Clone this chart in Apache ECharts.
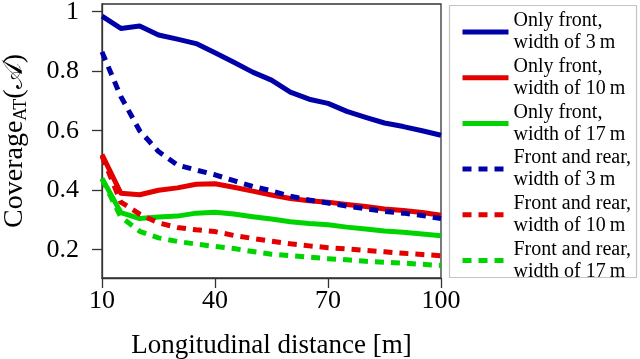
<!DOCTYPE html>
<html>
<head>
<meta charset="utf-8">
<script src="https://cdn.jsdelivr.net/npm/echarts@6/dist/echarts.min.js"></script>
<style>
  html, body { margin: 0; padding: 0; background: #fff; }
  #chart { width: 640px; height: 359px; }
</style>
</head>
<body>
<div id="chart"></div>
<script>
// longitudinal distance [m]
const distances = [10, 15, 20, 25, 30, 35, 40, 45, 50, 55, 60, 65, 70, 75, 80, 85, 90, 95, 100]

// only front
const front3 = [0.985, 0.944, 0.952, 0.922, 0.908, 0.893, 0.862, 0.830, 0.797, 0.770, 0.730, 0.706, 0.692, 0.665, 0.645, 0.626, 0.614, 0.600, 0.585]
const front10 = [0.520, 0.390, 0.385, 0.400, 0.408, 0.420, 0.422, 0.410, 0.397, 0.384, 0.372, 0.365, 0.360, 0.352, 0.345, 0.337, 0.332, 0.325, 0.316]
const front17 = [0.440, 0.325, 0.305, 0.310, 0.313, 0.323, 0.326, 0.320, 0.311, 0.303, 0.294, 0.288, 0.284, 0.276, 0.270, 0.263, 0.259, 0.253, 0.247]

// front and rear
const both3 = [0.865, 0.715, 0.600, 0.530, 0.485, 0.468, 0.452, 0.432, 0.413, 0.398, 0.380, 0.367, 0.357, 0.347, 0.338, 0.329, 0.323, 0.315, 0.305]
const both10 = [0.515, 0.360, 0.320, 0.290, 0.275, 0.267, 0.261, 0.248, 0.238, 0.229, 0.220, 0.213, 0.207, 0.203, 0.198, 0.193, 0.188, 0.184, 0.180]
const both17 = [0.438, 0.310, 0.262, 0.240, 0.228, 0.219, 0.211, 0.204, 0.194, 0.185, 0.180, 0.175, 0.170, 0.166, 0.161, 0.158, 0.155, 0.151, 0.147]

const xTicks = [10, 40, 70, 100]
const yTicks = [0.2, 0.4, 0.6, 0.8, 1]

const names = [
  'Only front,\nwidth of 3\u2009m',
  'Only front,\nwidth of 10\u2009m',
  'Only front,\nwidth of 17\u2009m',
  'Front and rear,\nwidth of 3\u2009m',
  'Front and rear,\nwidth of 10\u2009m',
  'Front and rear,\nwidth of 17\u2009m',
]
const values = [front3, front10, front17, both3, both10, both17]
const colors = ['#0000a8', '#e30000', '#00d400', '#0000a8', '#e30000', '#00d400']
const dashed = [false, false, false, true, true, true]

const serif = 'Liberation Serif'

const chart = echarts.init(document.getElementById('chart'))

chart.setOption({
  animation: false,
  grid: {
    left: 102,
    right: 199,
    top: 4,
    bottom: 81,
    outerBoundsMode: 'none',
    show: true,
    borderColor: '#333',
    borderWidth: 1.3,
  },
  xAxis: {
    type: 'value',
    min: 10,
    max: 100,
    name: 'Longitudinal distance [m]',
    nameLocation: 'middle',
    nameGap: 54,
    nameTextStyle: { fontFamily: serif, fontSize: 27, color: '#000' },
    axisLine: { show: true, lineStyle: { color: '#333', width: 1.3 } },
    axisTick: { show: true, length: 10, customValues: xTicks, lineStyle: { color: '#333', width: 1.3 } },
    axisLabel: { customValues: xTicks, margin: 10, fontFamily: serif, fontSize: 26, color: '#000' },
    splitLine: { show: false },
  },
  yAxis: {
    type: 'value',
    min: 0.105,
    max: 1.026,
    name: 'Coverage{sub|AT}(\u{1D49C})',
    nameLocation: 'middle',
    nameGap: 72,
    nameTextStyle: {
      fontFamily: serif,
      fontSize: 28,
      color: '#000',
      lineHeight: 30,
      rich: {
        sub: { fontFamily: serif, fontSize: 18, color: '#000', verticalAlign: 'bottom', lineHeight: 20 },
      },
    },
    axisLine: { show: true, lineStyle: { color: '#333', width: 1.3 } },
    axisTick: { show: true, length: 10, customValues: yTicks, lineStyle: { color: '#333', width: 1.3 } },
    axisLabel: {
      customValues: yTicks,
      margin: 23,
      fontFamily: serif,
      fontSize: 26,
      color: '#000',
      formatter: (v) => String(Math.round(v * 10) / 10),
    },
    splitLine: { show: false },
  },
  legend: {
    orient: 'vertical',
    left: 460,
    top: 10,
    padding: 0,
    itemWidth: 46,
    itemHeight: 12,
    itemGap: 1.7,
    data: names,
    itemStyle: { color: 'transparent', borderWidth: 0, opacity: 0 },
    lineStyle: { width: 5 },
    textStyle: { fontFamily: serif, fontSize: 20, lineHeight: 22, color: '#000' },
  },
  graphic: [
    {
      type: 'rect',
      shape: { x: 449.5, y: 5.5, width: 187, height: 272 },
      style: { fill: 'none', stroke: '#c4c4c4', lineWidth: 1.2 },
      silent: true,
    },
  ],
  series: names.map((name, i) => ({
    name,
    type: 'line',
    data: distances.map((d, j) => [d, values[i][j]]),
    symbol: 'none',
    color: colors[i],
    lineStyle: {
      color: colors[i],
      width: 5,
      type: dashed[i] ? [9, 7] : 'solid',
      join: 'round',
    },
  })),
})
</script>
</body>
</html>
